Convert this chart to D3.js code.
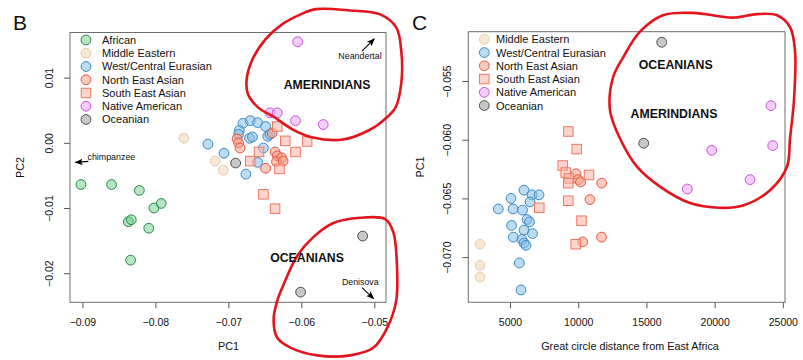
<!DOCTYPE html>
<html>
<head>
<meta charset="utf-8">
<script src="https://cdn.jsdelivr.net/npm/d3@7"></script>
<style>
  html, body { margin: 0; padding: 0; background: #fff; }
  svg { display: block; font-family: "Liberation Sans", Arial, Helvetica, sans-serif; }
</style>
</head>
<body>
<svg id="chart" width="803" height="360"></svg>
<script>
// ---------------- DATA ----------------
const groups = ["African", "Middle Eastern", "West/Central Eurasian", "North East Asian",
                "South East Asian", "Native American", "Oceanian"];

// Panel B : [PC1, PC2]
const africanB = [[-0.0902,-0.0064],[-0.0860,-0.0064],[-0.0822,-0.0073],[-0.0802,-0.0100],
  [-0.0792,-0.0093],[-0.0837,-0.0121],[-0.0833,-0.0118],[-0.0809,-0.0131],[-0.0834,-0.0180]];
const middleEasternB = [[-0.0761,0.0007],[-0.0718,-0.0028],[-0.0707,-0.0042]];
const westCentralB = [[-0.0728,-0.0002],[-0.0706,-0.0016],[-0.0676,-0.0048],[-0.0680,0.0030],
  [-0.0670,0.0034],[-0.0660,0.0031],[-0.0649,0.0025],[-0.0685,0.0019],[-0.0686,0.0013],
  [-0.0671,0.0007],[-0.0667,0.0009],[-0.0646,0.0010],[-0.0643,0.0013],[-0.0652,-0.0008],
  [-0.0660,-0.0030]];
const northEastB = [[-0.0688,0.0006],[-0.0686,0.0000],[-0.0684,-0.0008],[-0.0636,-0.0014],
  [-0.0633,-0.0020],[-0.0627,-0.0023],[-0.0634,-0.0029],[-0.0625,-0.0028],[-0.0649,-0.0039],
  [-0.0640,0.0015]];
const southEastB = [[-0.0633,0.0025],[-0.0622,0.0003],[-0.0592,0.0002],[-0.0608,-0.0014],
  [-0.0658,-0.0014],[-0.0670,-0.0028],[-0.0630,-0.0040],[-0.0652,-0.0079],[-0.0636,-0.0101]];
const nativeAmericanB = [[-0.0605,0.0155],[-0.0643,0.0046],[-0.0633,0.0046],[-0.0608,0.0034],
  [-0.0570,0.0028]];
const oceanianB = [[-0.0690,-0.0031],[-0.0516,-0.0143],[-0.0601,-0.0229]];

// Panel C : [distance from East Africa, PC1]
const middleEasternC = [[2800,-0.0689],[2800,-0.0707],[2800,-0.0717]];
const westCentralC = [[6026,-0.0643],[5073,-0.0650],[6613,-0.0647],[7126,-0.0647],[6466,-0.0653],
  [4142,-0.0659],[5220,-0.0659],[5916,-0.0660],[6246,-0.0668],[6430,-0.0670],[5110,-0.0673],
  [6026,-0.0677],[6649,-0.0680],[5242,-0.0683],[5880,-0.0685],[6026,-0.0688],[6173,-0.0690],
  [5682,-0.0705],[5806,-0.0728]];
const northEastC = [[9838,-0.0629],[10006,-0.0634],[10168,-0.0636],[11722,-0.0637],
  [10864,-0.0651],[10329,-0.0687],[11707,-0.0683]];
const southEastC = [[9273,-0.0593],[9889,-0.0608],[8863,-0.0622],[9083,-0.0628],[9325,-0.0633],
  [9273,-0.0637],[10791,-0.0630],[9273,-0.0652],[7148,-0.0658],[10241,-0.0669],[9816,-0.0689]];
const nativeAmericanC = [[24131,-0.0571],[24256,-0.0605],[19785,-0.0609],[22592,-0.0634],
  [17996,-0.0642]];
const oceanianC = [[16120,-0.0517],[14800,-0.0603]];

// Tick values / labels
const bXTicks = [-0.09,-0.08,-0.07,-0.06,-0.05];
const bXLabels = ["\u22120.09","\u22120.08","\u22120.07","\u22120.06","\u22120.05"];
const bYTicks = [0.01,0.00,-0.01,-0.02];
const bYLabels = ["0.01","0.00","\u22120.01","\u22120.02"];
const cXTicks = [5000,10000,15000,20000,25000];
const cXLabels = ["5000","10000","15000","20000","25000"];
const cYTicks = [-0.055,-0.060,-0.065,-0.070];
const cYLabels = ["\u22120.055","\u22120.060","\u22120.065","\u22120.070"];

// Hand-drawn red outlines (data units of each panel)
const amerindianLoopB = [[-0.0580,0.0205],[-0.0533,0.0203],[-0.0492,0.0197],[-0.0470,0.0177],
  [-0.0463,0.0140],[-0.0463,0.0092],[-0.0471,0.0054],[-0.0488,0.0034],[-0.0506,0.0020],
  [-0.0543,0.0005],[-0.0584,0.0008],[-0.0611,0.0020],[-0.0638,0.0040],[-0.0659,0.0054],
  [-0.0673,0.0074],[-0.0675,0.0097],[-0.0667,0.0128],[-0.0649,0.0159],[-0.0626,0.0182],
  [-0.0601,0.0197]];
const oceanianLoopB = [[-0.0556,-0.0123],[-0.0519,-0.0115],[-0.0485,-0.0117],[-0.0474,-0.0137],
  [-0.0469,-0.0188],[-0.0470,-0.0242],[-0.0482,-0.0283],[-0.0501,-0.0314],[-0.0533,-0.0326],
  [-0.0578,-0.0326],[-0.0615,-0.0314],[-0.0633,-0.0299],[-0.0638,-0.0272],[-0.0633,-0.0242],
  [-0.0623,-0.0214],[-0.0606,-0.0174],[-0.0584,-0.0145]];
const loopC = [[14529,-0.0508],[16215,-0.0494],[18414,-0.0492],[21346,-0.0496],[23105,-0.0493],
  [24571,-0.0494],[25524,-0.0504],[25891,-0.0524],[25817,-0.0566],[25524,-0.0599],
  [25304,-0.0623],[24058,-0.0643],[22079,-0.0656],[20393,-0.0658],[18194,-0.0654],
  [15995,-0.0640],[14309,-0.0623],[13063,-0.0599],[12330,-0.0575],[12550,-0.0547],
  [13283,-0.0530]];

// ---------------- STYLE ----------------
const style = {
  "African":               {fill:"#78cf8e", stroke:"#26884a", shape:"circle"},
  "Middle Eastern":        {fill:"#f0d4b6", stroke:"#e8cbab", shape:"circle"},
  "West/Central Eurasian": {fill:"#86c0e6", stroke:"#3a8ac4", shape:"circle"},
  "North East Asian":      {fill:"#f89c86", stroke:"#e65940", shape:"circle"},
  "South East Asian":      {fill:"#fbb2a2", stroke:"#ef7864", shape:"square"},
  "Native American":       {fill:"#eea2f7", stroke:"#c456d8", shape:"circle"},
  "Oceanian":              {fill:"#9a9a9a", stroke:"#4f4f4f", shape:"circle"}
};
const FILL_OP = 0.55;

const svg = d3.select("#chart");

// arrow marker
svg.append("defs").append("marker")
  .attr("id","arr").attr("viewBox","0 0 10 10").attr("refX",9).attr("refY",5)
  .attr("markerWidth",8).attr("markerHeight",8).attr("orient","auto-start-reverse")
  .attr("markerUnits","userSpaceOnUse")
  .append("path").attr("d","M0,1 L10,5 L0,9 L2,5 Z").attr("fill","#000");

function drawPoint(g, shape, cx, cy, st) {
  if (shape === "square") {
    const s = 9.5;
    g.append("rect").attr("x", cx - s/2).attr("y", cy - s/2).attr("width", s).attr("height", s)
      .attr("fill", st.fill).attr("fill-opacity", FILL_OP)
      .attr("stroke", st.stroke).attr("stroke-width", 1);
  } else {
    g.append("circle").attr("cx", cx).attr("cy", cy).attr("r", 4.9)
      .attr("fill", st.fill).attr("fill-opacity", FILL_OP)
      .attr("stroke", st.stroke).attr("stroke-width", 1);
  }
}

function panel(cfg) {
  const g = svg.append("g");
  const x = d3.scaleLinear().domain(cfg.xDomain).range([cfg.left, cfg.right]);
  const y = d3.scaleLinear().domain(cfg.yDomain).range([cfg.bottom, cfg.top]);

  // x axis
  const xa = g.append("g").attr("transform", `translate(0,${cfg.bottom})`)
    .call(d3.axisBottom(x).tickValues(cfg.xTicks).tickSize(6).tickPadding(10)
      .tickFormat((d,i) => cfg.xLabels[i]));
  xa.select(".domain").remove();
  xa.selectAll("line").attr("stroke", "#555");
  xa.selectAll("text").attr("font-size", 10.5).attr("fill", "#111")
    .attr("font-family", "'Liberation Sans', Arial, sans-serif");

  // y axis
  const ya = g.append("g").attr("transform", `translate(${cfg.left},0)`)
    .call(d3.axisLeft(y).tickValues(cfg.yTicks).tickSize(6)
      .tickFormat((d,i) => cfg.yLabels[i]));
  ya.select(".domain").remove();
  ya.selectAll("line").attr("stroke", "#555");
  ya.selectAll("text").attr("font-size", 10.5).attr("fill", "#111")
    .attr("font-family", "'Liberation Sans', Arial, sans-serif")
    .attr("x", 0).attr("y", -17).attr("dy", null)
    .attr("text-anchor", "middle").attr("transform", "rotate(-90)");

  // box
  g.append("rect").attr("x", cfg.left).attr("y", cfg.top)
    .attr("width", cfg.right - cfg.left).attr("height", cfg.bottom - cfg.top)
    .attr("fill", "none").attr("stroke", "#6e6e6e").attr("stroke-width", 1);

  // axis titles
  g.append("text").attr("x", cfg.xTitleX).attr("y", 350)
    .attr("text-anchor", "middle").attr("font-size", 10.8).attr("fill", "#111").text(cfg.xTitle);
  g.append("text").attr("transform", `translate(${cfg.yTitleX},${(cfg.top+cfg.bottom)/2}) rotate(-90)`)
    .attr("text-anchor", "middle").attr("font-size", 10.8).attr("fill", "#111").text(cfg.yTitle);

  // panel letter
  g.append("text").attr("x", cfg.letterX).attr("y", 30).attr("font-size", 21)
    .attr("fill", "#111").text(cfg.letter);

  // legend
  cfg.legend.forEach((name, i) => {
    const st = style[name];
    const ly = cfg.legendY + i * 13.25;
    drawPoint(g, st.shape, cfg.legendMarkX, ly, st);
    g.append("text").attr("x", cfg.legendTextX).attr("y", ly).attr("dy", "0.36em")
      .attr("font-size", 11).attr("fill", "#111").text(name);
  });

  // points
  cfg.series.forEach(s => {
    const st = style[s.name];
    s.values.forEach(v => drawPoint(g, st.shape, x(v[0]), y(v[1]), st));
  });

  // red outlines
  const line = d3.line().x(d => x(d[0])).y(d => y(d[1])).curve(d3.curveCatmullRomClosed.alpha(0.5));
  cfg.loops.forEach(l => {
    g.append("path").attr("d", line(l)).attr("fill", "none")
      .attr("stroke", "#e3141b").attr("stroke-width", 2.6).attr("stroke-linejoin", "round");
  });

  // labels
  cfg.labels.forEach(lb => {
    g.append("text").attr("x", x(lb.at[0])).attr("y", y(lb.at[1])).attr("dy", "0.36em")
      .attr("text-anchor", "middle").attr("font-size", lb.size)
      .attr("font-weight", lb.bold ? "bold" : "normal").attr("fill", "#111").text(lb.text);
  });
  (cfg.arrows || []).forEach(a => {
    g.append("line").attr("x1", x(a.from[0])).attr("y1", y(a.from[1]))
      .attr("x2", x(a.to[0])).attr("y2", y(a.to[1]))
      .attr("stroke", "#000").attr("stroke-width", 1.1).attr("marker-end", "url(#arr)");
  });
}

panel({
  left: 70, right: 386, top: 32.5, bottom: 302.3,
  xDomain: [-0.0917, -0.0484], yDomain: [-0.02446, 0.01692],
  xTicks: bXTicks, xLabels: bXLabels, yTicks: bYTicks, yLabels: bYLabels,
  xTitle: "PC1", xTitleX: 228.5, yTitle: "PC2", yTitleX: 24,
  letter: "B", letterX: 13,
  legend: groups, legendY: 40, legendMarkX: 86, legendTextX: 102,
  series: [
    {name:"African", values: africanB},
    {name:"Middle Eastern", values: middleEasternB},
    {name:"West/Central Eurasian", values: westCentralB},
    {name:"North East Asian", values: northEastB},
    {name:"South East Asian", values: southEastB},
    {name:"Native American", values: nativeAmericanB},
    {name:"Oceanian", values: oceanianB}
  ],
  loops: [amerindianLoopB, oceanianLoopB],
  labels: [
    {text:"AMERINDIANS", at:[-0.05648, 0.00892], size:12.3, bold:true},
    {text:"OCEANIANS", at:[-0.05922, -0.01758], size:12.3, bold:true},
    {text:"Neandertal", at:[-0.05196, 0.01338], size:8.9},
    {text:"Denisova", at:[-0.05192, -0.02134], size:8.8},
    {text:"chimpanzee", at:[-0.08603, -0.00208], size:8.9}
  ],
  arrows: [
    {from:[-0.05169, 0.01405], to:[-0.0500, 0.01595]},
    {from:[-0.05169, -0.0222], to:[-0.0501, -0.02389]},
    {from:[-0.08918, -0.00285], to:[-0.09096, -0.0030]}
  ]
});

panel({
  left: 468.3, right: 785, top: 31.7, bottom: 302.3,
  xDomain: [1943, 25158], yDomain: [-0.07385, -0.0508],
  xTicks: cXTicks, xLabels: cXLabels, yTicks: cYTicks, yLabels: cYLabels,
  xTitle: "Great circle distance from East Africa", xTitleX: 630, yTitle: "PC1", yTitleX: 424,
  letter: "C", letterX: 412,
  legend: groups.slice(1), legendY: 39.3, legendMarkX: 484.3, legendTextX: 496,
  series: [
    {name:"Middle Eastern", values: middleEasternC},
    {name:"West/Central Eurasian", values: westCentralC},
    {name:"North East Asian", values: northEastC},
    {name:"South East Asian", values: southEastC},
    {name:"Native American", values: nativeAmericanC},
    {name:"Oceanian", values: oceanianC}
  ],
  loops: [loopC],
  labels: [
    {text:"OCEANIANS", at:[17146, -0.05364], size:12.3, bold:true},
    {text:"AMERINDIANS", at:[17021, -0.05775], size:12.3, bold:true}
  ]
});
</script>
</body>
</html>
